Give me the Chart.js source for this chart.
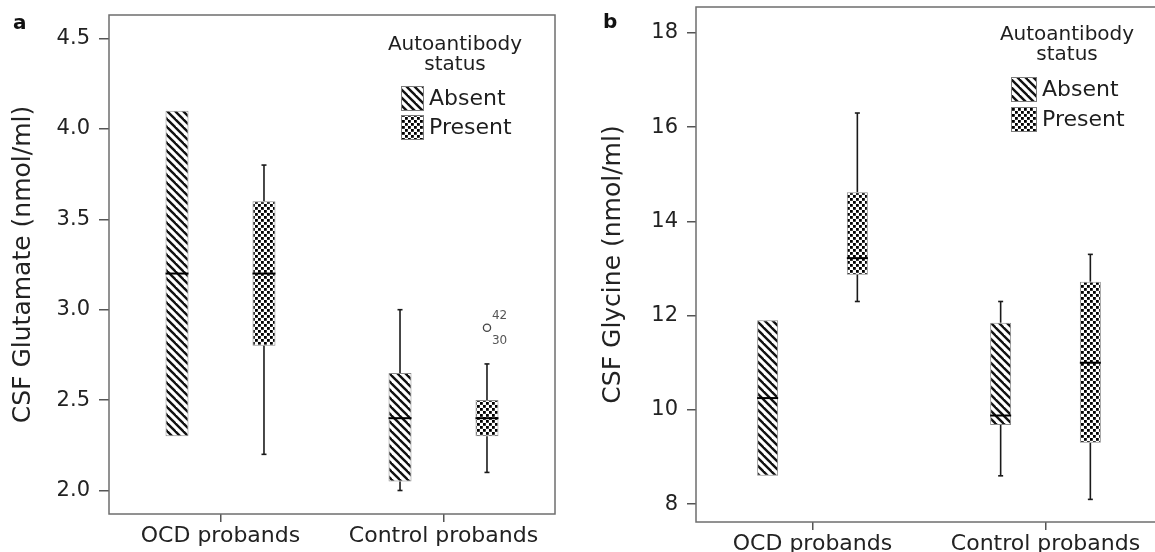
<!DOCTYPE html>
<html><head><meta charset="utf-8">
<script src="https://cdn.jsdelivr.net/npm/chart.js@4.4.1/dist/chart.umd.min.js"></script>
<style>
html,body{margin:0;padding:0;background:#fff;overflow:hidden;width:1155px;height:552px;}
#wrapA{position:absolute;left:0;top:0;width:580px;height:552px;}
#wrapB{position:absolute;left:580px;top:0;width:600px;height:552px;}
.lab{position:absolute;font:bold 20px 'DejaVu Sans';line-height:20px;color:#111;}
</style></head><body>
<div id="wrapA"><canvas id="cA" width="580" height="552"></canvas></div>
<div id="wrapB"><canvas id="cB" width="600" height="552"></canvas></div>
<div class="lab" style="left:13px;top:12px">a</div>
<div class="lab" style="left:603px;top:11px">b</div>
<script>
// ---------- data ----------
const categories = ['OCD probands', 'Control probands'];
const seriesNames = ['Absent', 'Present'];
const legendTitle = ['Autoantibody', 'status'];

// Panel a: CSF Glutamate (nmol/ml)
const gluAbsentQ1     = [2.3, 2.05];
const gluAbsentMedian = [3.2, 2.4];
const gluAbsentQ3     = [4.1, 2.65];
const gluAbsentLow    = [2.3, 2.0];
const gluAbsentHigh   = [4.1, 3.0];
const gluPresentQ1     = [2.8, 2.3];
const gluPresentMedian = [3.2, 2.4];
const gluPresentQ3     = [3.6, 2.5];
const gluPresentLow    = [2.2, 2.1];
const gluPresentHigh   = [3.8, 2.7];
const gluOutliers = [{category: 1, series: 1, value: 2.9, ids: ['42', '30']}];
const gluTicks = [2.0, 2.5, 3.0, 3.5, 4.0, 4.5];

// Panel b: CSF Glycine (nmol/ml)
const glyAbsentQ1     = [8.6, 9.68];
const glyAbsentMedian = [10.25, 9.88];
const glyAbsentQ3     = [11.9, 11.85];
const glyAbsentLow    = [8.6, 8.6];
const glyAbsentHigh   = [11.9, 12.3];
const glyPresentQ1     = [12.87, 9.3];
const glyPresentMedian = [13.22, 11.0];
const glyPresentQ3     = [14.62, 12.72];
const glyPresentLow    = [12.3, 8.1];
const glyPresentHigh   = [16.3, 13.3];
const glyOutliers = [];
const glyTicks = [8, 10, 12, 14, 16, 18];

// ---------- patterns ----------
function stripePattern() {
  const n = 8;
  const c = document.createElement('canvas'); c.width = n; c.height = n;
  const g = c.getContext('2d');
  g.fillStyle = '#fff'; g.fillRect(0, 0, n, n);
  g.strokeStyle = '#111'; g.lineWidth = 2.4;
  for (const dx of [-n, 0, n]) { g.beginPath(); g.moveTo(dx - 1, -1); g.lineTo(dx + n + 1, n + 1); g.stroke(); }
  return g.createPattern(c, 'repeat');
}
function dotPattern() {
  const c = document.createElement('canvas'); c.width = 6; c.height = 6;
  const g = c.getContext('2d');
  g.fillStyle = '#fff'; g.fillRect(0, 0, 6, 6);
  g.fillStyle = '#000';
  g.fillRect(0, 0, 2.8, 2.8); g.fillRect(3, 3, 2.8, 2.8);
  return g.createPattern(c, 'repeat');
}
const patterns = [stripePattern(), dotPattern()];

const FONT = "'DejaVu Sans'";

const extrasPlugin = {
  id: 'boxExtras',
  afterDatasetsDraw(chart) {
    const p = chart.options.plugins.boxExtras;
    const ctx = chart.ctx, y = chart.scales.y;
    ctx.save();
    p.series.forEach((s, si) => {
      const meta = chart.getDatasetMeta(si);
      meta.data.forEach((el, i) => {
        const x = el.x, half = el.width / 2;
        ctx.strokeStyle = '#1a1a1a'; ctx.lineWidth = 1.6;
        const pairs = [[s.q1[i], s.low[i]], [s.q3[i], s.high[i]]];
        pairs.forEach(([a, b]) => {
          if (Math.abs(a - b) < 1e-9) return;
          const ya = y.getPixelForValue(a), yb = y.getPixelForValue(b);
          ctx.beginPath(); ctx.moveTo(x, ya); ctx.lineTo(x, yb); ctx.stroke();
          ctx.beginPath(); ctx.moveTo(x - 2.5, yb); ctx.lineTo(x + 2.5, yb); ctx.stroke();
        });
        const ym = y.getPixelForValue(s.median[i]);
        ctx.strokeStyle = '#000'; ctx.lineWidth = 2;
        ctx.beginPath(); ctx.moveTo(x - half, ym); ctx.lineTo(x + half, ym); ctx.stroke();
      });
    });
    p.outliers.forEach(o => {
      const el = chart.getDatasetMeta(o.series).data[o.category];
      const x = el.x, yy = y.getPixelForValue(o.value);
      ctx.strokeStyle = '#444'; ctx.lineWidth = 1.3;
      ctx.beginPath(); ctx.arc(x, yy, 3.6, 0, Math.PI * 2); ctx.stroke();
      ctx.fillStyle = '#555'; ctx.font = '12px ' + FONT; ctx.textAlign = 'left'; ctx.textBaseline = 'middle';
      ctx.fillText(o.ids[0], x + 5, yy - 12);
      ctx.fillText(o.ids[1], x + 5, yy + 13);
    });
    ctx.restore();
  },
  afterDraw(chart) {
    const p = chart.options.plugins.boxExtras;
    const ctx = chart.ctx, ca = chart.chartArea;
    ctx.save();
    ctx.strokeStyle = '#6e6e6e'; ctx.lineWidth = 1.5;
    ctx.strokeRect(ca.left, ca.top, ca.right - ca.left, ca.bottom - ca.top);
    const L = p.legend;
    ctx.fillStyle = '#1e1e1e';
    ctx.font = '20px ' + FONT; ctx.textAlign = 'center'; ctx.textBaseline = 'middle';
    legendTitle.forEach((t, k) => ctx.fillText(t, ca.right - L.titleDx, ca.top + L.titleDy + k * 20));
    seriesNames.forEach((name, s) => {
      const sx = ca.right - L.swatchDx, sy = ca.top + L.swatchDy + s * L.rowGap;
      ctx.fillStyle = patterns[s]; ctx.fillRect(sx, sy, L.sw, L.sh);
      ctx.strokeStyle = '#7a7a7a'; ctx.lineWidth = 1; ctx.strokeRect(sx + 0.5, sy + 0.5, L.sw - 1, L.sh - 1);
      ctx.fillStyle = '#1e1e1e'; ctx.font = '22px ' + FONT; ctx.textAlign = 'left';
      ctx.fillText(name, sx + L.sw + 5, sy + L.sh / 2 + 1);
    });
    ctx.restore();
  }
};

function makePanel(id, p) {
  const series = [
    {q1: p.aq1, median: p.amed, q3: p.aq3, low: p.alow, high: p.ahigh},
    {q1: p.pq1, median: p.pmed, q3: p.pq3, low: p.plow, high: p.phigh}
  ];
  const datasets = seriesNames.map((name, s) => ({
    label: name,
    data: categories.map((_, i) => [series[s].q1[i], series[s].q3[i]]),
    backgroundColor: patterns[s],
    borderColor: '#8a8a8a',
    borderWidth: 1,
    borderSkipped: false,
    categoryPercentage: p.catPct,
    barPercentage: p.barPct
  }));
  return new Chart(document.getElementById(id), {
    type: 'bar',
    data: {labels: categories, datasets},
    options: {
      responsive: false, animation: false, devicePixelRatio: 1,
      layout: {padding: {top: p.padTop, right: p.padRight, left: 0, bottom: 0}},
      scales: {
        x: {
          type: 'category', offset: true,
          grid: {offset: false, drawOnChartArea: false, tickLength: 8, color: '#555', lineWidth: 1.5},
          border: {display: false},
          ticks: {font: {family: FONT, size: 22}, color: '#222', padding: p.xPad},
          afterFit: s => { s.height = p.xHeight; s.paddingLeft = 0; s.paddingRight = 0; }
        },
        y: {
          type: 'linear', min: p.min, max: p.max, stacked: false,
          afterBuildTicks: s => { s.ticks = p.ticks.map(v => ({value: v})); },
          ticks: {font: {family: FONT, size: 21}, color: '#222', padding: 9,
                  callback: v => p.fmt(v)},
          grid: {drawOnChartArea: false, tickLength: p.tickLen, color: '#555', lineWidth: 1.5},
          border: {display: false},
          title: {display: true, text: p.title, font: {family: FONT, size: 25}, color: '#222',
                  padding: {top: p.titlePad, bottom: 0}},
          afterFit: s => { s.width = p.yWidth; s.paddingTop = 0; s.paddingBottom = 0; }
        }
      },
      plugins: {
        legend: {display: false}, tooltip: {enabled: false},
        boxExtras: {series, outliers: p.outliers, legend: p.legend}
      }
    },
    plugins: [extrasPlugin]
  });
}

makePanel('cA', {
  aq1: gluAbsentQ1, amed: gluAbsentMedian, aq3: gluAbsentQ3, alow: gluAbsentLow, ahigh: gluAbsentHigh,
  pq1: gluPresentQ1, pmed: gluPresentMedian, pq3: gluPresentQ3, plow: gluPresentLow, phigh: gluPresentHigh,
  outliers: gluOutliers, ticks: gluTicks, fmt: v => v.toFixed(1),
  min: 1.87, max: 4.63, title: 'CSF Glutamate (nmol/ml)', titlePad: 8,
  yWidth: 109, xHeight: 38, padTop: 15, padRight: 25, tickLen: 10, xPad: 1,
  catPct: 0.78, barPct: 0.264,
  legend: {titleDx: 100, titleDy: 30, swatchDx: 154, swatchDy: 71, sw: 23, sh: 25, rowGap: 29}
});
makePanel('cB', {
  aq1: glyAbsentQ1, amed: glyAbsentMedian, aq3: glyAbsentQ3, alow: glyAbsentLow, ahigh: glyAbsentHigh,
  pq1: glyPresentQ1, pmed: glyPresentMedian, pq3: glyPresentQ3, plow: glyPresentLow, phigh: glyPresentHigh,
  outliers: glyOutliers, ticks: glyTicks, fmt: v => String(v),
  min: 7.62, max: 18.55, title: 'CSF Glycine (nmol/ml)', titlePad: 18,
  yWidth: 116, xHeight: 30, padTop: 7, padRight: 18, tickLen: 9, xPad: 1,
  catPct: 0.77, barPct: 0.234,
  legend: {titleDx: 95, titleDy: 28, swatchDx: 151, swatchDy: 70, sw: 26, sh: 25, rowGap: 30}
});
</script>
</body></html>
